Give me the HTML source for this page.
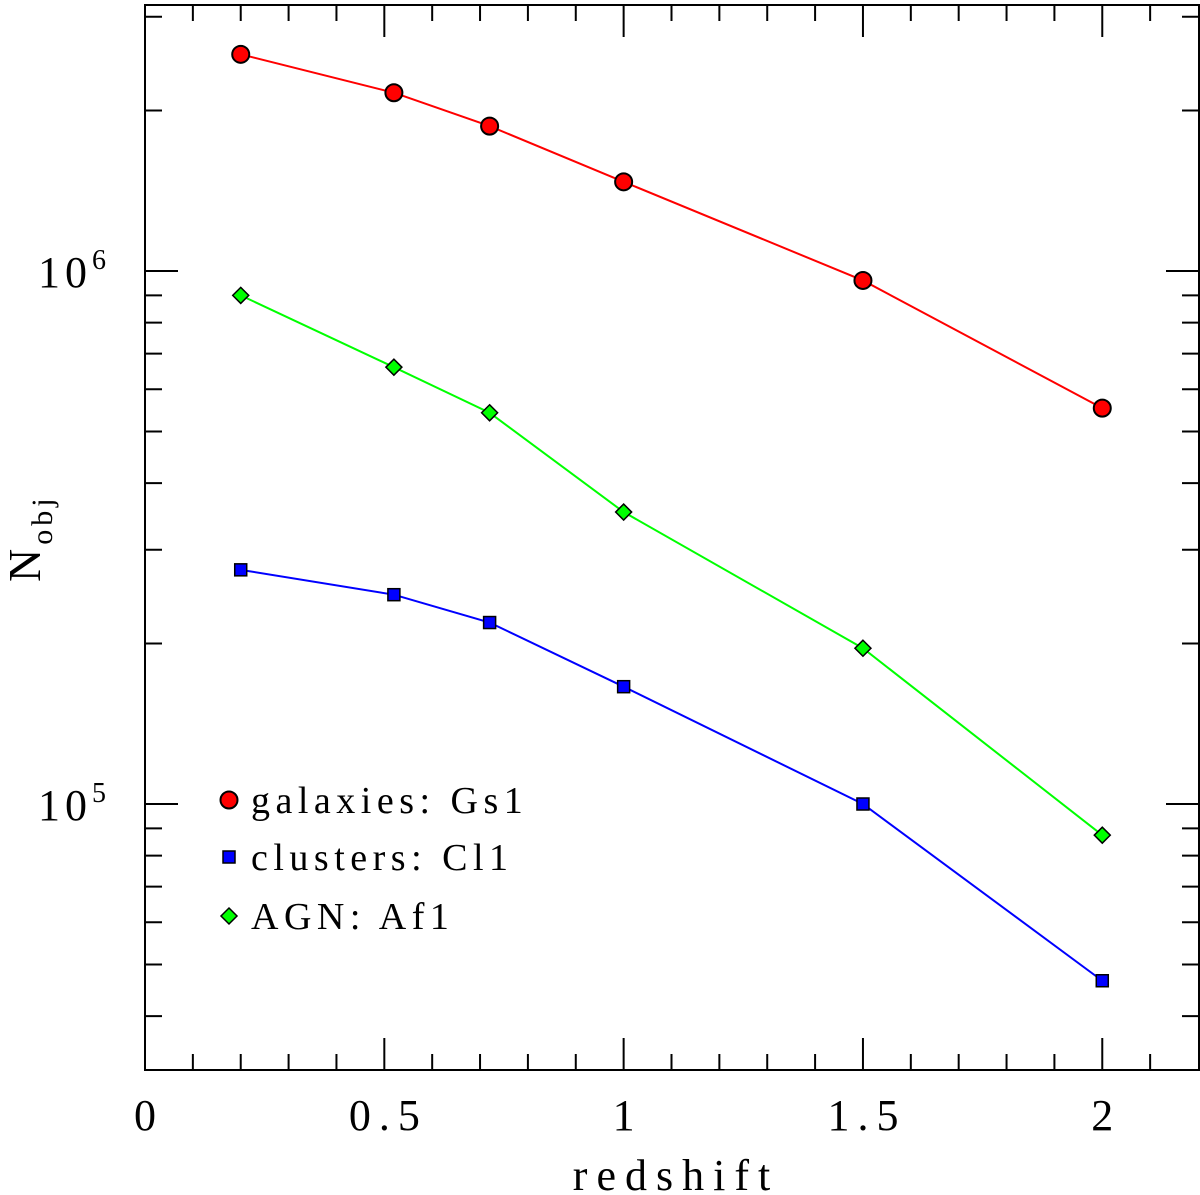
<!DOCTYPE html>
<html><head><meta charset="utf-8"><style>body{margin:0;background:#fff}svg{display:block}text{font-family:"Liberation Serif",serif;fill:#000}</style></head>
<body>
<svg id="chart" width="1200" height="1195" xmlns="http://www.w3.org/2000/svg"></svg>
<script>
const redshifts=[0.2,0.52,0.72,1.0,1.5,2.0];
const galaxies=[2.55e6,2.16e6,1.87e6,1.47e6,9.6e5,5.53e5];
const agn=[9.0e5,6.6e5,5.42e5,3.53e5,1.96e5,8.74e4];
const clusters=[2.75e5,2.47e5,2.19e5,1.66e5,1.0e5,4.66e4];
const xTickLabels=["0","0.5","1","1.5","2"];
const xTickValues=[0,0.5,1,1.5,2];
const L=145,R=1199,T=5,B=1070;
const X=v=>L+v*(1053/2.2);
const Y=v=>271-(Math.log10(v)-6)*533;
const NS="http://www.w3.org/2000/svg";
const svg=document.getElementById('chart');
function mk(t,a,p){const e=document.createElementNS(NS,t);for(const k in a)e.setAttribute(k,a[k]);(p||svg).appendChild(e);return e;}
const frame=mk('rect',{x:L,y:T,width:R-L,height:B-T,fill:'none',stroke:'#000','stroke-width':2});


for(let i=1;i<22;i++){const v=i/10,x=X(v),len=i%5===0?32:16;
 mk('line',{x1:x,y1:B,x2:x,y2:B-len,stroke:'#000','stroke-width':2});
 mk('line',{x1:x,y1:T,x2:x,y2:T+len,stroke:'#000','stroke-width':2});}
xTickValues.forEach((v,i)=>{const t=mk('text',{x:X(v)+4,y:1130,'font-size':44,'text-anchor':'middle','letter-spacing':8});t.textContent=xTickLabels[i];

});
for(let d=4;d<=6;d++)for(let m=1;m<10;m++){const v=m*Math.pow(10,d),y=Y(v);if(y<T||y>B)continue;const len=m===1?33:17;
 mk('line',{x1:L,y1:y,x2:L+len,y2:y,stroke:'#000','stroke-width':2});
 mk('line',{x1:R,y1:y,x2:R-len,y2:y,stroke:'#000','stroke-width':2});}
[[6,'10','6'],[5,'10','5']].forEach(([d,b,e])=>{const t=mk('text',{x:38,y:Y(Math.pow(10,d))+16,'font-size':44,'letter-spacing':5});t.textContent=b;
 const s=mk('tspan',{dy:-18,'font-size':28},t);s.textContent=e;
 
 });
const xt=mk('text',{x:676,y:1190,'font-size':44,'text-anchor':'middle','letter-spacing':9});xt.textContent='redshift';


const yt=mk('text',{transform:'translate(40,582) rotate(-90)','font-size':46});yt.textContent='N';
const ys=mk('tspan',{dy:12,'font-size':30,dx:4,'letter-spacing':4},yt);ys.textContent='obj';


function marker(kind,x,y,c,g){
 if(kind==='circle')return mk('circle',{cx:x,cy:y,r:8.5,fill:c,stroke:'#000','stroke-width':2},g);
 if(kind==='square')return mk('rect',{x:x-6,y:y-6,width:12,height:12,fill:c,stroke:'#000','stroke-width':1.5},g);
 return mk('polygon',{points:`${x},${y-8} ${x+8},${y} ${x},${y+8} ${x-8},${y}`,fill:c,stroke:'#000','stroke-width':1.5},g);
}
function series(name,vals,c,kind){
 const g=mk('g',{});
 
 
 const l=mk('polyline',{points:redshifts.map((x,i)=>X(x)+','+Y(vals[i])).join(' '),fill:'none',stroke:c,'stroke-width':2},g);
 
 
 redshifts.forEach((x,i)=>{const m=marker(kind,X(x),Y(vals[i]),c,g);
  
  });
}
series('galaxies',galaxies,'#ff0000','circle');
series('agn',agn,'#00ff00','diamond');
series('clusters',clusters,'#0000ff','square');
[['galaxies: Gs1','circle','#ff0000',800],['clusters: Cl1','square','#0000ff',857],['AGN: Af1','diamond','#00ff00',916]].forEach(([lab,k,c,y])=>{
 const g=mk('g',{});
 
 
 marker(k,229,y,c,g);
 const t=mk('text',{x:251,y:y+13,'font-size':38,'letter-spacing':5.5},g);t.textContent=lab;
});
</script>
</body></html>
